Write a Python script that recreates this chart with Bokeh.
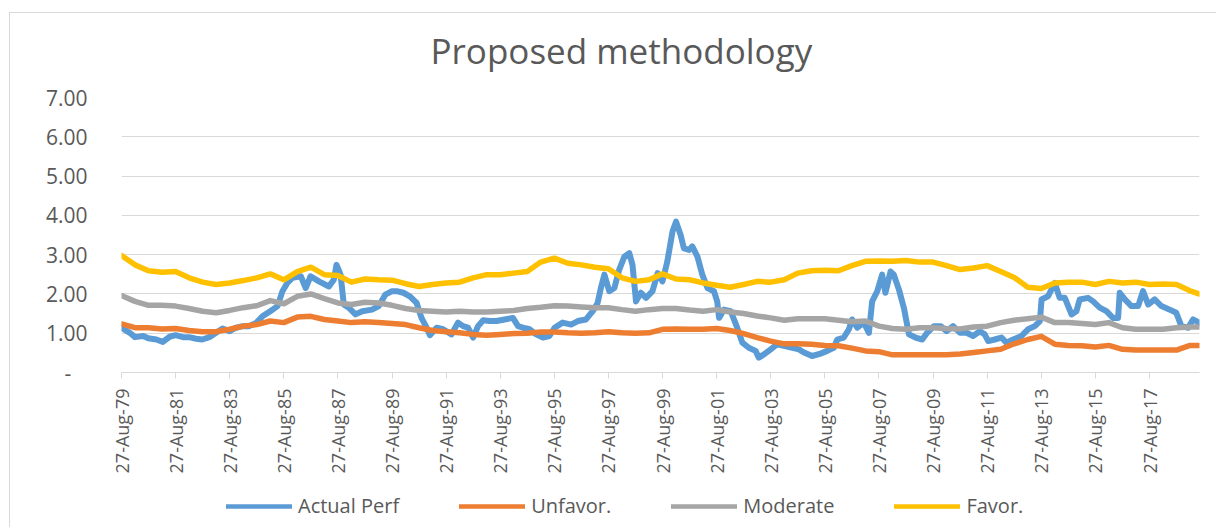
import math
from datetime import datetime
from bokeh.plotting import figure
from bokeh.layouts import column
from bokeh.models import Range1d, FixedTicker, Legend, LegendItem, Title
from bokeh.embed import file_html
from bokeh.resources import INLINE

# ---------------- data ----------------
actual_years = [
    1979.65, 1979.96, 1980.15, 1980.45, 1980.64, 1980.94, 1981.18, 1981.43, 1981.65, 1981.92,
    1982.15, 1982.41, 1982.64, 1982.90, 1983.15, 1983.39, 1983.65, 1983.88, 1984.15, 1984.37,
    1984.64, 1984.86, 1985.15, 1985.42, 1985.60, 1985.78, 1985.97, 1986.28, 1986.46, 1986.64,
    1986.95, 1987.32, 1987.50, 1987.60, 1987.75, 1987.87, 1988.05, 1988.30, 1988.55, 1988.91,
    1989.16, 1989.40, 1989.65, 1989.82, 1990.07, 1990.31, 1990.56, 1990.74, 1990.93, 1991.05,
    1991.30, 1991.54, 1991.85, 1992.09, 1992.28, 1992.46, 1992.65, 1992.83, 1993.02, 1993.26,
    1993.51, 1993.81, 1994.12, 1994.31, 1994.49, 1994.74, 1994.98, 1995.23, 1995.47, 1995.66,
    1995.96, 1996.27, 1996.52, 1996.82, 1997.07, 1997.25, 1997.37, 1997.50, 1997.68, 1997.87,
    1998.05, 1998.24, 1998.42, 1998.54, 1998.67, 1998.85, 1999.04, 1999.28, 1999.47, 1999.65,
    1999.83, 2000.02, 2000.15, 2000.32, 2000.44, 2000.63, 2000.75, 2000.94, 2001.12, 2001.31,
    2001.55, 2001.67, 2001.74, 2001.92, 2002.17, 2002.41, 2002.60, 2002.84, 2003.09, 2003.21,
    2003.40, 2003.65, 2003.89, 2004.14, 2004.45, 2004.69, 2004.88, 2005.18, 2005.49, 2005.74,
    2005.98, 2006.11, 2006.35, 2006.54, 2006.66, 2006.85, 2007.09, 2007.28, 2007.40, 2007.59,
    2007.77, 2007.89, 2008.08, 2008.20, 2008.39, 2008.57, 2008.76, 2009.00, 2009.25, 2009.43,
    2009.68, 2009.93, 2010.15, 2010.39, 2010.65, 2010.89, 2011.13, 2011.38, 2011.56, 2011.69,
    2011.93, 2012.18, 2012.36, 2012.61, 2012.92, 2013.16, 2013.41, 2013.60, 2013.66, 2013.90,
    2014.15, 2014.33, 2014.52, 2014.77, 2014.95, 2015.07, 2015.38, 2015.57, 2015.81, 2016.06,
    2016.30, 2016.49, 2016.55, 2016.74, 2016.98, 2017.23, 2017.41, 2017.60, 2017.84, 2018.09,
    2018.40, 2018.64, 2018.83, 2019.08, 2019.26, 2019.48,
]
actual_perf = [
    1.14, 1.01, 0.90, 0.93, 0.87, 0.84, 0.78, 0.91, 0.95, 0.90,
    0.90, 0.86, 0.84, 0.90, 1.01, 1.12, 1.05, 1.14, 1.18, 1.18,
    1.27, 1.43, 1.56, 1.69, 2.07, 2.28, 2.41, 2.45, 2.15, 2.45,
    2.32, 2.19, 2.36, 2.74, 2.49, 1.73, 1.65, 1.48, 1.56, 1.60,
    1.69, 1.98, 2.07, 2.07, 2.03, 1.94, 1.77, 1.39, 1.14, 0.95,
    1.14, 1.10, 0.97, 1.27, 1.18, 1.14, 0.89, 1.18, 1.33, 1.31,
    1.31, 1.35, 1.39, 1.18, 1.14, 1.10, 0.97, 0.89, 0.93, 1.14,
    1.27, 1.22, 1.31, 1.35, 1.56, 1.77, 2.15, 2.49, 2.07, 2.15,
    2.62, 2.95, 3.04, 2.74, 1.81, 2.03, 1.90, 2.07, 2.53, 2.32,
    2.83, 3.59, 3.84, 3.50, 3.16, 3.12, 3.21, 2.95, 2.49, 2.15,
    2.07, 1.81, 1.39, 1.60, 1.56, 1.14, 0.76, 0.63, 0.55, 0.38,
    0.46, 0.59, 0.72, 0.68, 0.63, 0.59, 0.51, 0.42, 0.48, 0.55,
    0.63, 0.84, 0.89, 1.10, 1.35, 1.14, 1.27, 1.01, 1.81, 2.07,
    2.49, 2.03, 2.57, 2.49, 2.11, 1.65, 0.97, 0.89, 0.84, 1.01,
    1.18, 1.18, 1.05, 1.18, 1.01, 1.01, 0.93, 1.05, 0.97, 0.80,
    0.84, 0.89, 0.76, 0.84, 0.93, 1.10, 1.18, 1.31, 1.86, 1.94,
    2.28, 1.90, 1.90, 1.48, 1.56, 1.86, 1.90, 1.81, 1.65, 1.56,
    1.39, 1.39, 2.03, 1.86, 1.69, 1.69, 2.07, 1.73, 1.86, 1.69,
    1.60, 1.52, 1.18, 1.14, 1.35, 1.27,
]

# half-yearly sampling dates for the three scenario series
scenario_years = [1979.65 + 0.5 * k for k in range(80)] + [2019.48]
unfavor = [
    1.24, 1.14, 1.14, 1.11, 1.12, 1.07, 1.04, 1.04, 1.10, 1.18,
    1.22, 1.31, 1.27, 1.41, 1.43, 1.35, 1.31, 1.27, 1.29, 1.27,
    1.25, 1.22, 1.14, 1.07, 1.04, 1.01, 0.97, 0.95, 0.97, 0.99,
    1.00, 1.03, 1.03, 1.01, 1.00, 1.01, 1.04, 1.01, 1.00, 1.01,
    1.10, 1.11, 1.10, 1.10, 1.12, 1.07, 0.99, 0.89, 0.80, 0.73,
    0.73, 0.72, 0.69, 0.68, 0.62, 0.55, 0.53, 0.45, 0.45, 0.45,
    0.45, 0.45, 0.47, 0.51, 0.55, 0.59, 0.73, 0.84, 0.92, 0.72,
    0.69, 0.68, 0.65, 0.69, 0.59, 0.57, 0.57, 0.57, 0.57, 0.69,
    0.69,
]
moderate = [
    1.96, 1.81, 1.71, 1.71, 1.69, 1.63, 1.56, 1.52, 1.58, 1.65,
    1.70, 1.83, 1.75, 1.94, 2.00, 1.88, 1.77, 1.73, 1.79, 1.77,
    1.71, 1.63, 1.58, 1.56, 1.54, 1.56, 1.54, 1.54, 1.56, 1.58,
    1.63, 1.66, 1.70, 1.69, 1.67, 1.65, 1.65, 1.60, 1.56, 1.60,
    1.63, 1.63, 1.59, 1.56, 1.60, 1.54, 1.50, 1.44, 1.39, 1.33,
    1.37, 1.37, 1.37, 1.33, 1.29, 1.31, 1.18, 1.12, 1.10, 1.14,
    1.14, 1.12, 1.11, 1.16, 1.18, 1.27, 1.33, 1.37, 1.41, 1.27,
    1.27, 1.25, 1.22, 1.27, 1.14, 1.10, 1.10, 1.10, 1.14, 1.16,
    1.16,
]
favor = [
    2.98, 2.74, 2.59, 2.55, 2.57, 2.41, 2.30, 2.24, 2.28, 2.34,
    2.41, 2.51, 2.36, 2.57, 2.68, 2.49, 2.47, 2.30, 2.38, 2.36,
    2.35, 2.26, 2.19, 2.24, 2.28, 2.30, 2.41, 2.49, 2.49, 2.53,
    2.57, 2.81, 2.91, 2.78, 2.74, 2.68, 2.64, 2.41, 2.32, 2.36,
    2.51, 2.38, 2.36, 2.28, 2.22, 2.17, 2.24, 2.32, 2.30, 2.36,
    2.53, 2.59, 2.60, 2.59, 2.72, 2.83, 2.84, 2.83, 2.85, 2.81,
    2.81, 2.72, 2.62, 2.66, 2.72, 2.57, 2.42, 2.17, 2.14, 2.28,
    2.30, 2.30, 2.24, 2.32, 2.28, 2.30, 2.24, 2.25, 2.24, 2.08,
    2.00,
]

series_names = ["Actual Perf", "Unfavor.", "Moderate", "Favor."]
series_colors = ["#5B9BD5", "#ED7D31", "#A5A5A5", "#FFC000"]

x_tick_years = list(range(1979, 2018, 2))
x_tick_labels = ["27-Aug-%02d" % (y % 100) for y in x_tick_years]
y_ticks = [0, 1, 2, 3, 4, 5, 6, 7]
y_tick_labels = ["-\u00a0\u00a0\u00a0", "1.00", "2.00", "3.00", "4.00", "5.00", "6.00", "7.00"]

# ---------------- helpers ----------------
EPOCH = datetime(1970, 1, 1)


def to_ms(dt):
    return int((dt - EPOCH).total_seconds() * 1000)


def dec_year_ms(y):
    yr = int(y)
    a = datetime(yr, 1, 1)
    b = datetime(yr + 1, 1, 1)
    return to_ms(a) + (to_ms(b) - to_ms(a)) * (y - yr)


x_ticks = [to_ms(datetime(y, 8, 27)) for y in x_tick_years]

GRAY_TXT = "#595959"
FONT = "Open Sans"
BORDER = "#d9d9d9"

main_bg = ("linear-gradient(%s,%s) 9px 12px / 1px 100%% no-repeat, "
           "linear-gradient(%s,%s) 9px 12px / 100%% 1px no-repeat, white") % (BORDER, BORDER, BORDER, BORDER)
legend_bg = "linear-gradient(%s,%s) 9px 0px / 1px 100%% no-repeat, white" % (BORDER, BORDER)

p = figure(
    frame_width=1078, frame_height=275,
    x_axis_type="datetime",
    x_range=Range1d(to_ms(datetime(1979, 8, 27)), dec_year_ms(2019.50)),
    y_range=Range1d(0, 7),
    output_backend="svg", toolbar_location=None,
    min_border_left=121, min_border_right=17, min_border_top=96, min_border_bottom=110,
    background_fill_color="white", border_fill_alpha=0,
    styles={"background": main_bg},
)
p.outline_line_color = None

title = Title(text="Proposed methodology", text_font=FONT, text_font_size="35px",
              text_font_style="normal", text_color=GRAY_TXT, align="left", offset=309,
              standoff=48)
p.add_layout(title, "above")

# axes
xa = p.xaxis[0]
xa.ticker = FixedTicker(ticks=x_ticks)
xa.major_label_overrides = {t: lab for t, lab in zip(x_ticks, x_tick_labels)}
xa.major_label_orientation = math.pi / 2
xa.major_label_text_font = FONT
xa.major_label_text_font_size = "18px"
xa.major_label_text_color = GRAY_TXT
xa.axis_line_color = BORDER
xa.major_tick_line_color = BORDER
xa.major_tick_out = 6
xa.major_tick_in = 0
xa.minor_tick_line_color = None
xa.major_label_standoff = 10

ya = p.yaxis[0]
ya.ticker = FixedTicker(ticks=y_ticks)
ya.major_label_overrides = {t: lab for t, lab in zip(y_ticks, y_tick_labels)}
ya.major_label_text_font = FONT
ya.major_label_text_font_size = "21px"
ya.major_label_text_color = GRAY_TXT
ya.axis_line_color = None
ya.major_tick_line_color = None
ya.minor_tick_line_color = None
ya.major_label_standoff = 28

p.xgrid.visible = False
p.ygrid.grid_line_color = BORDER
p.ygrid.grid_line_width = 1

# lines
actual_x = [dec_year_ms(y) for y in actual_years]
scen_x = [dec_year_ms(y) for y in scenario_years]
series = [(actual_x, actual_perf), (scen_x, unfavor), (scen_x, moderate), (scen_x, favor)]
widths = [6, 5.5, 5.5, 5.5]
for (xs, ys), col, w in zip(series, series_colors, widths):
    p.line(xs, ys, line_color=col, line_width=w, line_join="round", line_cap="round")

# ---------------- legend strip below the chart ----------------
# the same series are attached to a strip whose ranges keep them off-view,
# so that only their legend swatches show
lg = figure(
    width=1216, height=45,
    x_range=Range1d(0, 1), y_range=Range1d(0, 1),
    x_axis_location=None, y_axis_location=None,
    output_backend="svg", toolbar_location=None, min_border=0,
    background_fill_alpha=0, border_fill_alpha=0,
    styles={"background": legend_bg},
)
lg.outline_line_color = None
lg.grid.visible = False
items = []
for (xs, ys), name, col in zip(series, series_names, series_colors):
    r = lg.line(xs, ys, line_color=col, line_width=4.5, line_cap="round")
    items.append(LegendItem(label=name, renderers=[r]))
legend = Legend(items=items, orientation="horizontal", location=(105, 8),
                label_text_font=FONT, label_text_font_size="20px", label_text_color=GRAY_TXT,
                glyph_width=66, glyph_height=20, label_standoff=6, spacing=60,
                border_line_color=None, background_fill_alpha=0, padding=0, margin=0)
lg.add_layout(legend, "center")

layout = column(p, lg, spacing=0)
open("out.html", "w").write(file_html(layout, INLINE))
